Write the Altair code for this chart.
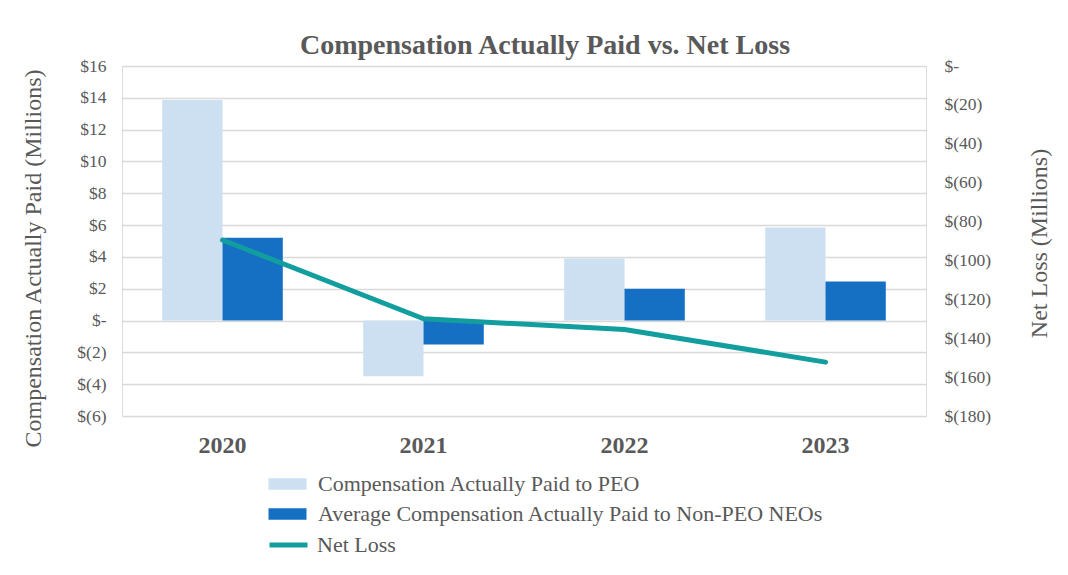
import altair as alt
import pandas as pd

years = ["2020", "2021", "2022", "2023"]
series = ["Compensation Actually Paid to PEO",
          "Average Compensation Actually Paid to Non-PEO NEOs"]
peo = [13.87, -3.5, 3.9, 5.85]
non_peo = [5.2, -1.5, 2.0, 2.45]
line_name = "Net Loss"
net_loss = [-89.5, -130.0, -135.5, -152.3]
left_ticks = list(range(-6, 17, 2))
right_ticks = list(range(-180, 1, 20))

SERIF = "'Liberation Serif', 'Times New Roman', Times, serif"
GRAY = "#595959"

df_bars = pd.DataFrame({
    "Year": years * 2,
    "Series": [series[0]] * len(years) + [series[1]] * len(years),
    "Value": peo + non_peo,
})
df_line = pd.DataFrame({"Year": years, "Series": [line_name] * len(years), "Value": net_loss})

money = ("datum.value == 0 ? '$-\u00a0' : (datum.value < 0 ? '$(' + format(-datum.value, 'd') + ')'"
         " : '$' + format(datum.value, 'd') + '\u00a0')")
money_r = ("datum.value == 0 ? '$-' : (datum.value < 0 ? '$(' + format(-datum.value, 'd') + ')'"
           " : '$' + format(datum.value, 'd'))")

x_enc = alt.X("Year:N", sort=years,
              scale=alt.Scale(paddingInner=0.4, paddingOuter=0.2),
              axis=alt.Axis(title=None, labelAngle=0, labelFont=SERIF, labelFontSize=24,
                            labelFontWeight="bold", labelColor=GRAY, labelPadding=17,
                            ticks=False, domain=False, grid=False))

bars = alt.Chart(df_bars).mark_bar().encode(
    x=x_enc,
    xOffset=alt.XOffset("Series:N", sort=series,
                        scale=alt.Scale(domain=series, paddingInner=0, paddingOuter=0)),
    y=alt.Y("Value:Q",
            scale=alt.Scale(domain=[-6, 16], nice=False, zero=False),
            axis=alt.Axis(values=left_ticks, labelExpr=money, labelFont=SERIF, labelFontSize=17.5,
                          labelColor=GRAY, labelPadding=16, ticks=False, domain=False,
                          grid=True, gridColor="#d9d9d9", gridWidth=1.5,
                          title="Compensation Actually Paid (Millions)", titleFont=SERIF,
                          titleFontSize=24, titleFontWeight="normal", titleColor=GRAY,
                          titleX=-89, titleY=192, titleAngle=270, titleBaseline="middle")),
    fill=alt.Fill("Series:N",
                  scale=alt.Scale(domain=series, range=["#cde0f2", "#1570c4"]),
                  legend=alt.Legend(orient="none", legendX=154.5, legendY=407, title=None,
                                    symbolType="M-2,-0.6H2V0.6H-2Z", symbolSize=361,
                                    symbolStrokeWidth=0, labelFont=SERIF, labelFontSize=22,
                                    labelColor=GRAY, labelOffset=19.5, labelLimit=900,
                                    rowPadding=8, padding=0)),
)

line = alt.Chart(df_line).mark_line(strokeWidth=5, strokeCap="round", strokeJoin="round").encode(
    x=alt.X("Year:N", sort=years),
    y=alt.Y("Value:Q",
            scale=alt.Scale(domain=[-180, 0], nice=False, zero=False),
            axis=alt.Axis(orient="right", values=right_ticks, labelExpr=money_r, labelFont=SERIF,
                          labelFontSize=17.5, labelColor=GRAY, labelPadding=18, ticks=False,
                          domain=False, grid=False,
                          title="Net Loss (Millions)", titleFont=SERIF, titleFontSize=24,
                          titleFontWeight="normal", titleColor=GRAY,
                          titleX=113, titleY=177, titleAngle=270, titleBaseline="middle")),
    stroke=alt.Stroke("Series:N",
                      scale=alt.Scale(domain=[line_name], range=["#129e9e"]),
                      legend=alt.Legend(orient="none", legendX=154.5, legendY=467, title=None,
                                        symbolType="M-2,0H2", symbolSize=361,
                                        symbolStrokeWidth=5, labelFont=SERIF, labelFontSize=22,
                                        labelColor=GRAY, labelOffset=16.5, labelLimit=900,
                                        padding=0)),
)

chart = alt.layer(bars, line).resolve_scale(y="independent").properties(
    width=804, height=350,
    padding={"left": 114, "top": 58, "right": 130, "bottom": 150},
    autosize=alt.AutoSizeParams(type="none"),
    title=alt.Title("Compensation Actually Paid vs. Net Loss", font=SERIF, fontSize=28,
                    fontWeight="bold", color=GRAY, anchor="middle", offset=10, dx=21, dy=13),
).configure_view(stroke=None).configure(background="white")

chart.save("out.html", embed_options={"renderer": "svg", "actions": False})
